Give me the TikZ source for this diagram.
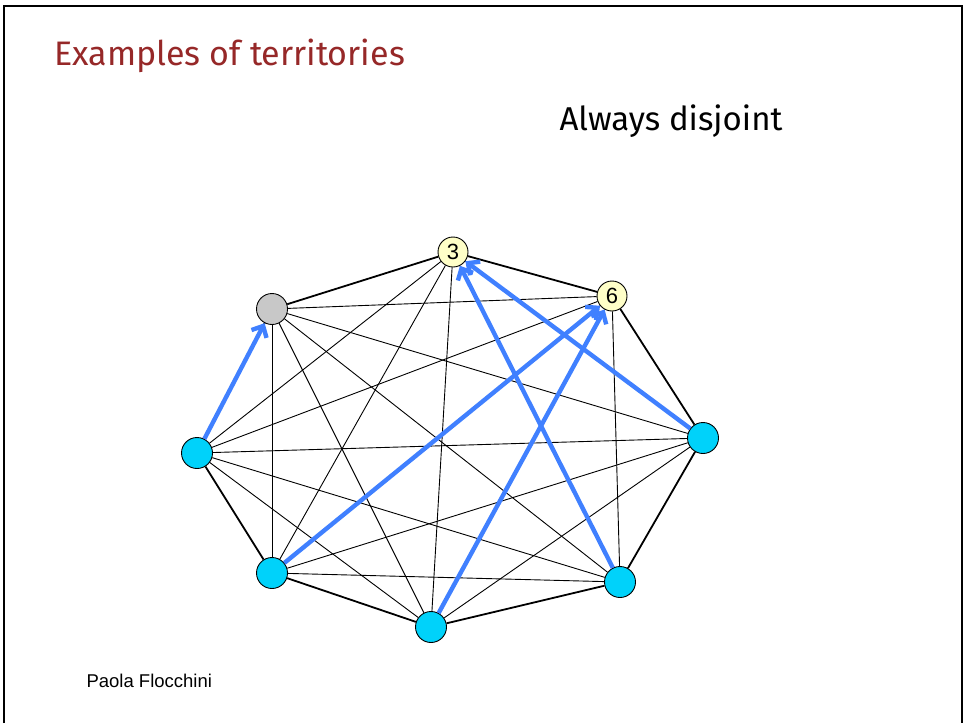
\documentclass[tikz,border=0pt]{standalone}
\usepackage{fontspec}
\setmainfont{Fira Sans}
\newfontfamily\arialfont{Liberation Sans}
\usetikzlibrary{arrows.meta}

\definecolor{titlered}{RGB}{150,40,40}
\definecolor{agentcyan}{RGB}{0,210,250}
\definecolor{homegray}{RGB}{200,200,200}
\definecolor{pickyellow}{RGB}{255,255,200}
\definecolor{moveblue}{RGB}{64,128,255}

\begin{document}
\begin{tikzpicture}[x=1pt, y=-1pt,
vertex/.style={circle, draw, line width=0.9pt, minimum size=31pt, inner sep=0pt},
agent/.style={vertex, fill=agentcyan},
home/.style={vertex, fill=homegray},
picked/.style={vertex, fill=pickyellow, minimum size=30pt, font=\arialfont\fontsize{22}{22}\selectfont},
ring/.style={line width=1.8pt},
chord/.style={line width=0.9pt},
move/.style={line width=4.4pt, moveblue, -{Straight Barb[length=9pt,width=17pt]}}]

\useasboundingbox (0,0) rectangle (965,723);
\draw[line width=2pt] (4,723) -- (4,6) -- (962,6) -- (962,723);

\node[anchor=west, text=titlered, font=\fontsize{34}{40}\selectfont] (title) at (51,56) {Examples of territories};
\node[anchor=west, font=\fontsize{33}{38}\selectfont] (claim) at (556,121) {Always disjoint};
\node[anchor=west, font=\arialfont\fontsize{18.5}{22}\selectfont] (author) at (83,681) {Paola Flocchini};

\node[picked] (v3)  at (453,252) {3};
\node[picked] (v6)  at (612,296) {6};
\node[agent]  (vr)  at (703,438) {};
\node[agent]  (vbr) at (620,582) {};
\node[agent]  (vb)  at (431,627) {};
\node[agent]  (vbl) at (272,573) {};
\node[agent]  (vl)  at (197,453) {};
\node[home]   (vg)  at (272,309) {};

% outer ring
\draw[ring] (v3) -- (v6);
\draw[ring] (v6) -- (vr);
\draw[ring] (vr) -- (vbr);
\draw[ring] (vbr) -- (vb);
\draw[ring] (vb) -- (vbl);
\draw[ring] (vbl) -- (vl);
\draw[ring] (vl) -- (vg);
\draw[ring] (vg) -- (v3);

% chords
\draw[chord] (v3) -- (vr);
\draw[chord] (v3) -- (vbr);
\draw[chord] (v3) -- (vb);
\draw[chord] (v3) -- (vbl);
\draw[chord] (v3) -- (vl);
\draw[chord] (v6) -- (vbr);
\draw[chord] (v6) -- (vb);
\draw[chord] (v6) -- (vbl);
\draw[chord] (v6) -- (vl);
\draw[chord] (v6) -- (vg);
\draw[chord] (vr) -- (vb);
\draw[chord] (vr) -- (vbl);
\draw[chord] (vr) -- (vl);
\draw[chord] (vr) -- (vg);
\draw[chord] (vbr) -- (vbl);
\draw[chord] (vbr) -- (vl);
\draw[chord] (vbr) -- (vg);
\draw[chord] (vb) -- (vl);
\draw[chord] (vb) -- (vg);
\draw[chord] (vbl) -- (vg);

% agents moving
\draw[move] (vl) -- (vg);
\draw[move] (vbl) -- (v6);
\draw[move] (vb) -- (v6);
\draw[move] (vr) -- (v3);
\draw[move] (vbr) -- (v3);

\end{tikzpicture}
\end{document}
